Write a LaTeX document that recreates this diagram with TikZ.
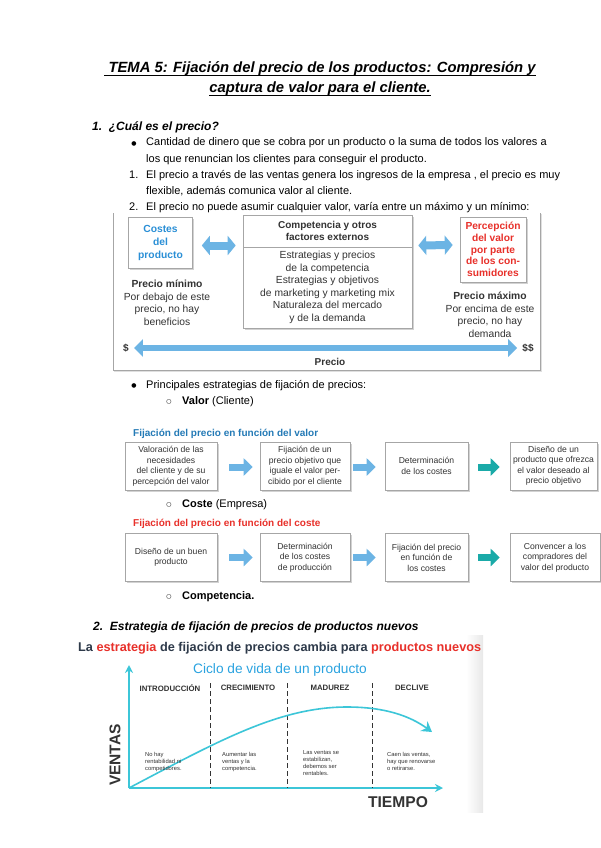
\documentclass[tikz,border=0pt]{standalone}
\usepackage{fontspec}
\setmainfont{Liberation Sans}
\newfontfamily\dejavu{DejaVu Sans}
\usetikzlibrary{shadows,arrows.meta,calc}
\definecolor{lblue}{HTML}{6CB4E4}
\definecolor{teal2}{HTML}{1AAAA8}
\definecolor{bluetxt}{HTML}{2A8FD6}
\definecolor{redtxt}{HTML}{E8302A}
\definecolor{cyanc}{HTML}{3CC6D8}
\definecolor{titlec}{HTML}{2AA3E0}
\definecolor{darkt}{HTML}{333333}
\definecolor{slate}{HTML}{2E3A4A}
\tikzset{
  txt/.style={anchor=base west, inner sep=0pt, font=\fontsize{11}{13}\selectfont},
  bul/.style={anchor=base, inner sep=0pt, font=\dejavu\fontsize{6}{7}\selectfont},
  ttl/.style={anchor=base, inner sep=0pt, font=\fontsize{14.8}{17}\selectfont\bfseries\itshape},
  pbox/.style={draw=gray!70, fill=white, line width=0.6pt, drop shadow={shadow xshift=1.5pt, shadow yshift=-1.5pt, opacity=0.35}},
  ptxt/.style={font=\fontsize{10.3}{12.5}\selectfont, text=darkt, align=center, inner sep=0pt},
  chbox/.style={pbox, minimum height=48pt, align=center, text=darkt, font=\fontsize{8.6}{10.5}\selectfont, inner sep=1pt},
  chain/.style={line width=7pt, draw=lblue, -{Triangle[length=9pt,width=17pt]}},
  chainT/.style={line width=7pt, draw=teal2, -{Triangle[length=9pt,width=17pt]}},
  dbl/.style={line width=8pt, draw=lblue, {Triangle[length=8pt,width=19pt]}-{Triangle[length=8pt,width=19pt]}},
  phase/.style={font=\fontsize{7.8}{8}\selectfont\bfseries, text=darkt, inner sep=0pt},
  tiny/.style={font=\fontsize{5.8}{7}\selectfont, text=darkt, align=left, anchor=north west, inner sep=0pt},
}
\begin{document}
\begin{tikzpicture}[x=1pt,y=-1pt]
\useasboundingbox (0,0) rectangle (600,848);
\fill[white] (0,0) rectangle (600,848);

% Title
\node[ttl] (t1) at (320,73) {\ TEMA 5: Fijación del precio de los productos: Compresión y};
\node[ttl] (t2) at (320,93) {captura de valor para el cliente.};
\draw[line width=0.8pt] ([yshift=-2.2pt]t1.base west) -- ([yshift=-2.2pt]t1.base east);
\draw[line width=0.8pt] ([yshift=-2.2pt]t2.base west) -- ([yshift=-2.2pt]t2.base east);

% Section 1
\node[txt, font=\fontsize{12}{14}\selectfont\bfseries\itshape] (s1) at (92,130.5) {1.\ \ ¿Cuál es el precio?};
\node[bul] (b1) at (134,145.5) {●};
\node[txt] (l1) at (146,146) {Cantidad de dinero que se cobra por un producto o la suma de todos los valores a};
\node[txt] (l2) at (146,162) {los que renuncian los clientes para conseguir el producto.};
\node[txt] (n1) at (129,178) {1.};
\node[txt] (l3) at (146,178) {El precio a través de las ventas genera los ingresos de la empresa\ , el precio es muy};
\node[txt] (l4) at (146,194) {flexible, además comunica valor al cliente.};
\node[txt] (n2) at (129,210) {2.};
\node[txt] (l5) at (146,210) {El precio no puede asumir cualquier valor, varía entre un máximo y un mínimo:};

% Price diagram frame
\draw[gray!70, line width=0.8pt] (113,213) -- (113,370) -- (540,370) -- (540,213);
\draw[gray!25, line width=1.5pt] (114,371.5) -- (541.5,371.5) -- (541.5,214);

\node[pbox, minimum width=64pt, minimum height=51pt, align=center, font=\fontsize{10.3}{13}\selectfont\bfseries, text=bluetxt, inner sep=0pt] (cost) at (160.5,242.5) {Costes\\del\\producto};
\node[pbox, minimum width=169pt, minimum height=113pt, inner sep=0pt] (comp) at (327.5,271.5) {};
\draw[gray!70, line width=0.6pt] (243,247) -- (412,247);
\node[ptxt, font=\fontsize{10}{12}\selectfont\bfseries] (compt) at (327.5,231) {Competencia y otros\\factores externos};
\node[ptxt] (compb) at (327.5,287.5) {Estrategias y precios\\de la competencia\\Estrategias y objetivos\\de marketing y marketing mix\\Naturaleza del mercado\\y de la demanda};
\node[pbox, minimum width=66pt, minimum height=65pt, align=center, font=\fontsize{10.2}{11.7}\selectfont\bfseries, text=redtxt, inner sep=0pt] (perc) at (493,249.5) {Percepción\\del valor\\por parte\\de los con-\\sumidores};
\draw[dbl] ($(cost.east)+(9,3)$) -- ($(comp.west)+(-7,-26)$);
\draw[dbl] ($(comp.east)+(6,-26)$) -- ($(perc.west)+(-7,-4.5)$);

\node[ptxt] (pmin) at (167,303) {\textbf{Precio mínimo}\\Por debajo de este\\precio, no hay\\beneficios};
\node[ptxt] (pmax) at (490,315) {\textbf{Precio máximo}\\Por encima de este\\precio, no hay\\demanda};
\node[ptxt, font=\fontsize{10}{11}\selectfont\bfseries] (d1) at (126,348) {\$};
\node[ptxt, font=\fontsize{10}{11}\selectfont\bfseries] (d2) at (528,348) {\$\$};
\draw[line width=6pt, draw=lblue, {Triangle[length=9pt,width=17pt]}-{Triangle[length=9pt,width=17pt]}] ($(d1.east)+(5,0)$) -- ($(d2.west)+(-5,0)$);
\node[ptxt, font=\fontsize{10}{11}\selectfont\bfseries] (prec) at (330,362) {Precio};

% Strategies
\node[bul] (b2) at (134,387.5) {●};
\node[txt] (l6) at (146,388) {Principales estrategias de fijación de precios:};
\node[bul] (c1) at (169,403.5) {○};
\node[txt] (l7) at (182,404) {\textbf{Valor} (Cliente)};

\node[txt, font=\fontsize{10}{11}\selectfont\bfseries, text=bluetxt!85!black] (fv) at (133,436) {Fijación del precio en función del valor};
\node[chbox, minimum width=92pt] (v1) at (171,466) {Valoración de las\\necesidades\\del cliente y de su\\percepción del valor};
\node[chbox, minimum width=90pt] (v2) at (305,466) {Fijación de un\\precio objetivo que\\iguale el valor per-\\cibido por el cliente};
\node[chbox, minimum width=83pt] (v3) at (426.5,466) {Determinación\\de los costes};
\node[chbox, minimum width=87pt] (v4) at (553.5,466) {Diseño de un\\producto que ofrezca\\el valor deseado al\\precio objetivo};
\draw[chain] ($(v1.east)+(12,1)$) -- ($(v2.west)+(-7,1)$);
\draw[chain] ($(v2.east)+(3,1)$) -- ($(v3.west)+(-9,1)$);
\draw[chainT] ($(v3.east)+(10,1)$) -- ($(v4.west)+(-10,1)$);

\node[bul] (c2) at (169,506.5) {○};
\node[txt] (l8) at (182,507) {\textbf{Coste} (Empresa)};
\node[txt, font=\fontsize{10}{11}\selectfont\bfseries, text=redtxt] (fc) at (133,526) {Fijación del precio en función del coste};
\node[chbox, minimum width=92pt] (k1) at (171,557.5) {Diseño de un buen\\producto};
\node[chbox, minimum width=90pt] (k2) at (305,557.5) {Determinación\\de los costes\\de producción};
\node[chbox, minimum width=83pt] (k3) at (426.5,557.5) {Fijación del precio\\en función de\\los costes};
\node[chbox, minimum width=90pt] (k4) at (555,557.5) {Convencer a los\\compradores del\\valor del producto};
\draw[chain] ($(k1.east)+(12,0)$) -- ($(k2.west)+(-7,0)$);
\draw[chain] ($(k2.east)+(3,0)$) -- ($(k3.west)+(-9,0)$);
\draw[chainT] ($(k3.east)+(10,0)$) -- ($(k4.west)+(-10,0)$);

\node[bul] (c3) at (169,598.5) {○};
\node[txt] (l9) at (182,599) {\textbf{Competencia.}};

% Section 2
\node[txt, font=\fontsize{12}{14}\selectfont\bfseries\itshape] (s2) at (93,630.5) {2.\ \ Estrategia de fijación de precios de productos nuevos};
\shade[left color=white, right color=gray!18] (466,635) rectangle (483,812);
\node[txt, font=\fontsize{12.7}{14}\selectfont\bfseries, text=slate] (sub) at (78,651.5) {La \textcolor{redtxt}{estrategia} de fijación de precios cambia para \textcolor{redtxt}{productos nuevos}};

% Life cycle chart
\node[inner sep=0pt, font=\fontsize{13.7}{15}\selectfont, text=titlec] (ct) at (280,670) {Ciclo de vida de un producto};
\coordinate (o) at (129,788);
\coordinate (ytop) at (129,665);
\coordinate (xend) at (443,788);
\draw[cyanc, line width=1.6pt, -{Stealth[length=8pt,width=8pt]}] (o) -- (ytop);
\draw[cyanc, line width=1.6pt, -{Stealth[length=8pt,width=8pt]}] (o) -- (xend);
\foreach \xx in {210,287,372} \draw[darkt, line width=0.7pt, dash pattern=on 4.5pt off 3.5pt] (\xx,683) -- (\xx,788);
\node[phase] (p1) at (170,688) {INTRODUCCIÓN};
\node[phase] (p2) at (248,688) {CRECIMIENTO};
\node[phase] (p3) at (330,688) {MADUREZ};
\node[phase] (p4) at (412,688) {DECLIVE};
\draw[cyanc, line width=1.6pt, -{Stealth[length=10pt,width=12pt]}] (o) .. controls (220,740) and (280,707) .. (347,707) .. controls (385,707) and (410,716) .. (432,732);
\node[rotate=90, inner sep=0pt, font=\fontsize{15.5}{17}\selectfont\bfseries, text=darkt] (ventas) at (115,755) {VENTAS};
\node[inner sep=0pt, font=\fontsize{15.6}{17}\selectfont\bfseries, text=darkt] (tiempo) at (398,802) {TIEMPO};
\node[tiny] (q1) at (145,752) {No hay\\rentabilidad ni\\competidores.};
\node[tiny] (q2) at (222,752) {Aumentar las\\ventas y la\\competencia.};
\node[tiny] (q3) at (303,750) {Las ventas se\\estabilizan,\\debemos ser\\rentables.};
\node[tiny] (q4) at (387,752) {Caen las ventas,\\hay que renovarse\\o retirarse.};
\end{tikzpicture}
\end{document}
